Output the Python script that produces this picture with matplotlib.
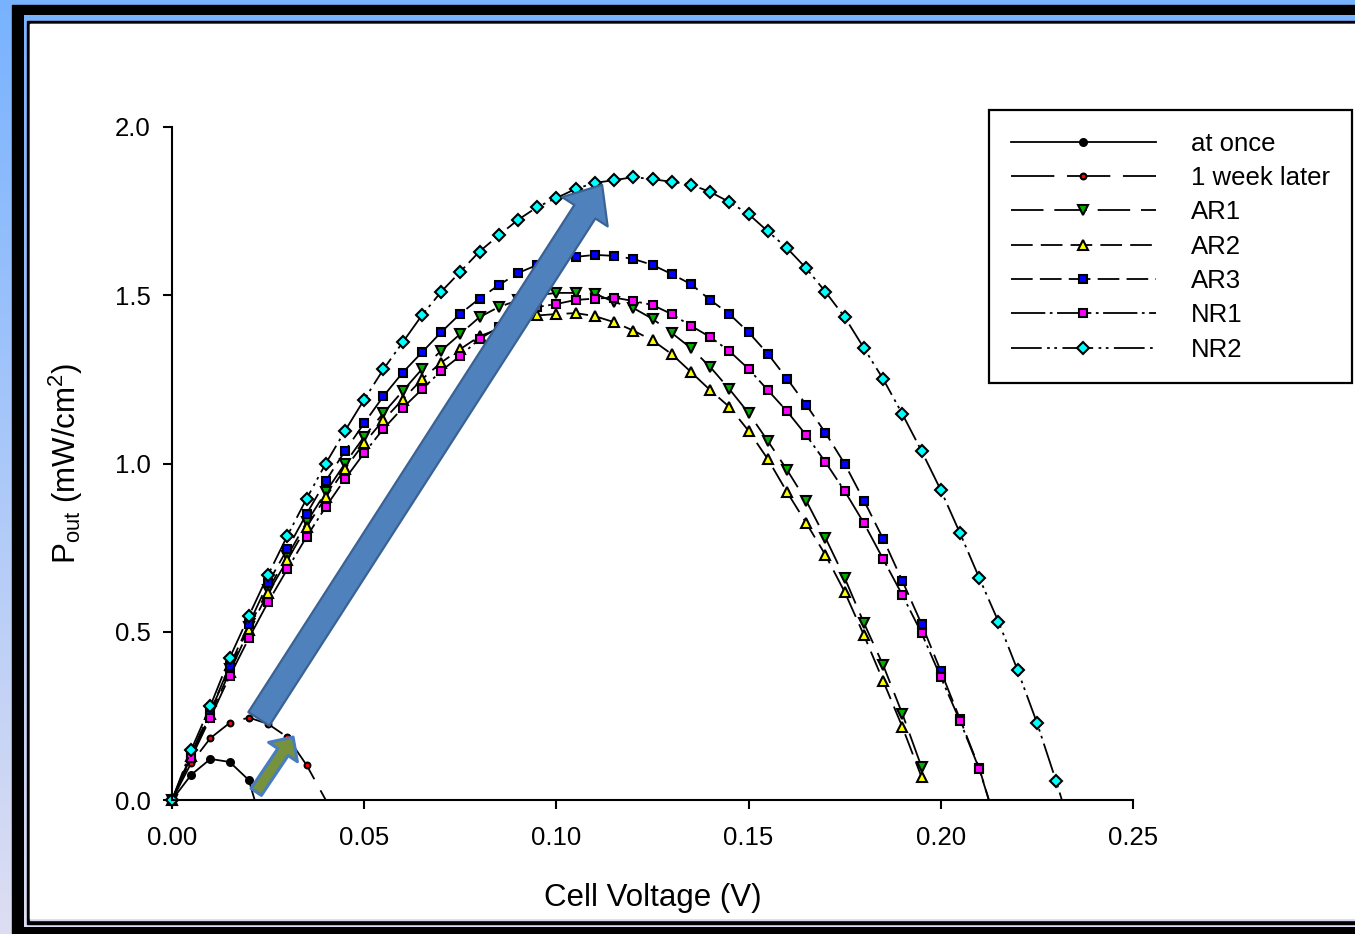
import numpy as np
import matplotlib
matplotlib.use('Agg')
import matplotlib.pyplot as plt
from matplotlib.patches import Rectangle, FancyArrowPatch
from matplotlib.ticker import FormatStrFormatter

plt.rcParams['font.family'] = ['Liberation Sans', 'DejaVu Sans']
plt.rcParams['mathtext.fontset'] = 'custom'
plt.rcParams['mathtext.rm'] = 'Liberation Sans'
plt.rcParams['mathtext.it'] = 'Liberation Sans:italic'

# cell voltage grid (V), every curve is sampled on it from 0
volts = [0.000, 0.005, 0.010, 0.015, 0.020, 0.025, 0.030, 0.035, 0.040, 0.045,
         0.050, 0.055, 0.060, 0.065, 0.070, 0.075, 0.080, 0.085, 0.090, 0.095,
         0.100, 0.105, 0.110, 0.115, 0.120, 0.125, 0.130, 0.135, 0.140, 0.145,
         0.150, 0.155, 0.160, 0.165, 0.170, 0.175, 0.180, 0.185, 0.190, 0.195,
         0.200, 0.205, 0.210, 0.215, 0.220, 0.225, 0.230]

# power output (mW/cm2)
at_once = [0, 0.075, 0.122, 0.113, 0.059]
week_later = [0, 0.11, 0.184, 0.229, 0.245, 0.226, 0.187, 0.104]
ar1 = [0, 0.135, 0.265, 0.39, 0.515, 0.625, 0.725, 0.825, 0.915, 1.0,
       1.08, 1.15, 1.215, 1.28, 1.335, 1.385, 1.435, 1.465, 1.485, 1.50,
       1.507, 1.507, 1.505, 1.48, 1.462, 1.43, 1.388, 1.343, 1.287, 1.221,
       1.15, 1.067, 0.981, 0.889, 0.779, 0.66, 0.526, 0.401, 0.256, 0.098]
ar2 = [0, 0.13, 0.255, 0.38, 0.505, 0.615, 0.713, 0.811, 0.90, 0.984,
       1.061, 1.129, 1.19, 1.25, 1.30, 1.34, 1.378, 1.40, 1.425, 1.44,
       1.444, 1.447, 1.438, 1.42, 1.395, 1.366, 1.325, 1.272, 1.218, 1.168,
       1.097, 1.013, 0.915, 0.823, 0.728, 0.618, 0.49, 0.354, 0.217, 0.068]
ar3 = [0, 0.135, 0.265, 0.398, 0.523, 0.645, 0.746, 0.85, 0.948, 1.037,
       1.12, 1.20, 1.27, 1.33, 1.39, 1.445, 1.49, 1.53, 1.566, 1.59,
       1.605, 1.614, 1.62, 1.617, 1.608, 1.59, 1.563, 1.533, 1.486, 1.444,
       1.39, 1.326, 1.252, 1.174, 1.091, 0.999, 0.89, 0.776, 0.651, 0.523,
       0.383, 0.24, 0.095]
nr1 = [0, 0.125, 0.245, 0.368, 0.481, 0.588, 0.686, 0.782, 0.871, 0.954,
       1.031, 1.103, 1.165, 1.22, 1.275, 1.32, 1.37, 1.405, 1.44, 1.465,
       1.474, 1.486, 1.49, 1.493, 1.483, 1.471, 1.444, 1.409, 1.376, 1.334,
       1.281, 1.218, 1.155, 1.084, 1.004, 0.918, 0.823, 0.716, 0.609, 0.496,
       0.365, 0.235, 0.092]
nr2 = [0, 0.149, 0.28, 0.422, 0.547, 0.669, 0.785, 0.895, 1.0, 1.097,
       1.19, 1.28, 1.36, 1.44, 1.51, 1.57, 1.63, 1.678, 1.724, 1.762,
       1.789, 1.816, 1.834, 1.842, 1.851, 1.845, 1.837, 1.829, 1.807, 1.777,
       1.741, 1.69, 1.64, 1.58, 1.51, 1.435, 1.343, 1.251, 1.147, 1.037,
       0.921, 0.793, 0.66, 0.53, 0.385, 0.23, 0.056]

# voltage where a curve runs down to zero (no marker there), None = stops at last point
end_volts = [0.0215, 0.040, None, None, 0.2125, 0.2125, 0.2315]

labels = ['at once', '1 week later', 'AR1', 'AR2', 'AR3', 'NR1', 'NR2']

series = [at_once, week_later, ar1, ar2, ar3, nr1, nr2]
colors = ['black', 'red', '#00B000', '#FFFF00', '#0000FF', '#FF00FF', '#00FFFF']
markers = ['o', 'o', 'v', '^', 's', 's', 'D']
msizes = [5, 4.2, 6.8, 6.8, 6.2, 6.2, 5.8]
dashes = [None, (24, 7), (18, 6), (12, 4.5), (12, 4), (19, 2.5, 1.5, 2.5),
          (17, 3, 1.5, 2.5, 1.5, 3)]

W, H = 1355, 934
fig = plt.figure(figsize=(W / 100, H / 100), dpi=100)

# slide-like background and frame
bg = fig.add_axes([0, 0, 1, 1])
bg.set_xlim(0, W)
bg.set_ylim(H, 0)
bg.axis('off')
t = np.linspace(0, 1, 256).reshape(-1, 1, 1)
top_c = np.array([0.47, 0.70, 1.0])
bot_c = np.array([0.87, 0.87, 0.95])
grad = top_c * (1 - t) + bot_c * t
bg.imshow(grad, extent=(0, W, H, 0), aspect='auto', zorder=0)
bg.add_patch(Rectangle((12, 5), W, H, color='black', zorder=1))
gap = Rectangle((24, 15), W, 912, transform=bg.transData)
im2 = bg.imshow(grad, extent=(0, W, H, 0), aspect='auto', zorder=2)
im2.set_clip_path(gap)
bg.add_patch(Rectangle((27, 21), W, 903, color='black', zorder=3))
bg.add_patch(Rectangle((30, 24), W, 896, color='#D6D6EE', zorder=4))
bg.add_patch(Rectangle((30, 24), W, 894, color='white', zorder=5))

ax = fig.add_axes([172 / W, 134 / H, 961 / W, 673 / H])
ax.set_facecolor('none')

for vals, end_v, lab, c, m, ms, d in zip(series, end_volts, labels, colors,
                                         markers, msizes, dashes):
    x = list(volts[:len(vals)])
    y = list(vals)
    if end_v is not None:
        x.append(end_v)
        y.append(0)
    line, = ax.plot(x, y, color='black', lw=1.3, marker=m, ms=ms,
                    mfc=c, mec='black', mew=1.5, label=lab,
                    markevery=list(range(len(vals))), clip_on=False)
    if d is not None:
        line.set_dashes(d)

ax.set_xlim(0, 0.25)
ax.set_ylim(0, 2.0)
ax.set_xticks([0, 0.05, 0.10, 0.15, 0.20, 0.25])
ax.set_yticks([0, 0.5, 1.0, 1.5, 2.0])
ax.xaxis.set_major_formatter(FormatStrFormatter('%.2f'))
ax.yaxis.set_major_formatter(FormatStrFormatter('%.1f'))
for s in ['top', 'right']:
    ax.spines[s].set_visible(False)
for s in ['left', 'bottom']:
    ax.spines[s].set_linewidth(1.5)
ax.tick_params(direction='out', length=6.5, width=1.5, labelsize=18.5)
ax.tick_params(axis='x', pad=12)
ax.tick_params(axis='y', pad=9)
ax.set_xlabel('Cell Voltage (V)', fontsize=22.5, labelpad=24)
ax.set_ylabel(r'P$_{\mathrm{out}}$ (mW/cm$^{2}$)', fontsize=22.5, labelpad=21)

leg = ax.legend(loc='upper left', bbox_to_anchor=(989 / W, 1 - 110 / H),
                bbox_transform=fig.transFigure, fontsize=18.5, numpoints=1,
                handlelength=5.65, handletextpad=1.36, labelspacing=0.40,
                borderpad=0.85, borderaxespad=0, fancybox=False,
                framealpha=1, edgecolor='black')
leg.get_frame().set_linewidth(1.6)

# arrows drawn over the curves
big = FancyArrowPatch((0.0226, 0.241), (0.1119, 1.828),
                      arrowstyle='simple,head_length=2.3,head_width=3.9,tail_width=1.8',
                      mutation_scale=10, fc='#4F81BD', ec='#3A6394', lw=1.6,
                      shrinkA=0, shrinkB=0, transform=ax.transData,
                      clip_on=False, zorder=10)
ax.add_patch(big)
small = FancyArrowPatch((0.0219, 0.024), (0.0315, 0.187),
                        arrowstyle='simple,head_length=1.3,head_width=2.5,tail_width=0.9',
                        mutation_scale=10, fc='#76923C', ec='#4A7CC0', lw=2.2,
                        shrinkA=0, shrinkB=0, transform=ax.transData,
                        clip_on=False, zorder=10)
ax.add_patch(small)

fig.savefig('out.png', dpi=100)
